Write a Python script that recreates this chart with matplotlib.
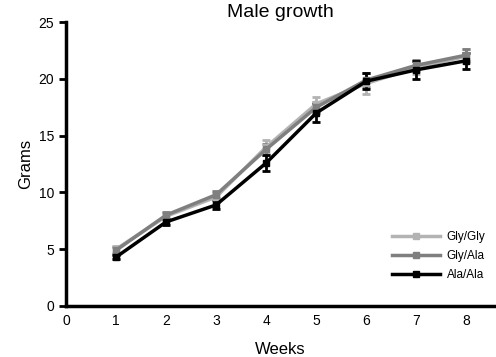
import matplotlib
matplotlib.use("Agg")
import matplotlib.pyplot as plt
from matplotlib.lines import Line2D

plt.rcParams['font.family'] = ['Liberation Sans', 'DejaVu Sans']

weeks = [1, 2, 3, 4, 5, 6, 7, 8]
gly_gly = [5.0, 7.9, 9.6, 14.0, 17.8, 19.6, 21.0, 22.0]
gly_gly_err = [0.3, 0.3, 0.4, 0.6, 0.6, 0.9, 0.6, 0.6]
gly_ala = [4.9, 8.0, 9.8, 13.8, 17.5, 19.9, 21.2, 22.1]
gly_ala_err = [0.3, 0.3, 0.3, 0.5, 0.5, 0.6, 0.5, 0.5]
ala_ala = [4.3, 7.4, 8.9, 12.6, 17.0, 19.8, 20.8, 21.6]
ala_ala_err = [0.2, 0.3, 0.4, 0.7, 0.8, 0.7, 0.8, 0.7]

series = [
    ("Gly/Gly", gly_gly, gly_gly_err, "#b3b3b3"),
    ("Gly/Ala", gly_ala, gly_ala_err, "#7f7f7f"),
    ("Ala/Ala", ala_ala, ala_ala_err, "#000000"),
]

fig = plt.figure(figsize=(4.96, 3.57), dpi=100)
ax = fig.add_axes([0.133, 0.143, 0.863, 0.795])

handles = []
for name, vals, err, col in series:
    ax.errorbar(weeks, vals, yerr=err, color=col, lw=2.5, marker='s', ms=4,
                capsize=3, capthick=2, elinewidth=2)
    handles.append(Line2D([], [], color=col, lw=2.5, marker='s', ms=4, label=name))

ax.set_xlim(0, 8.55)
ax.set_ylim(0, 25)
ax.set_xticks(range(0, 9))
ax.set_yticks([0, 5, 10, 15, 20, 25])
ax.tick_params(axis='x', length=0, labelsize=10, pad=6)
ax.tick_params(axis='y', length=5, width=2, labelsize=10)
for s in ['top', 'right']:
    ax.spines[s].set_visible(False)
for s in ['left', 'bottom']:
    ax.spines[s].set_linewidth(2.5)

ax.set_xlabel("Weeks", fontsize=12, labelpad=10)
ax.set_ylabel("Grams", fontsize=12)
ax.set_title("Male growth", fontsize=14, pad=4)

leg = ax.legend(handles=handles, loc='lower right', frameon=False, fontsize=8.5,
                handlelength=4, labelspacing=0.6, handletextpad=0.6,
                bbox_to_anchor=(1.005, 0.05))

fig.savefig("out.png", dpi=100)
